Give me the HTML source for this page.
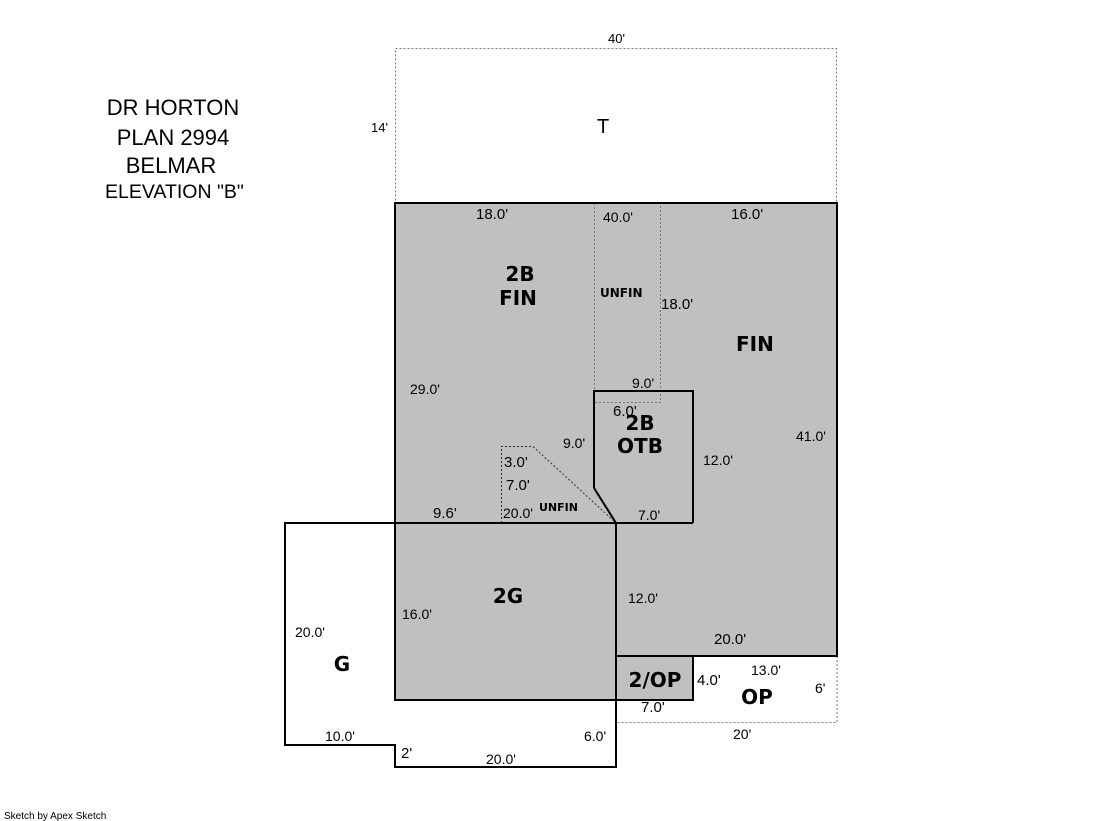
<!DOCTYPE html>
<html><head><meta charset="utf-8"><style>
body{margin:0;background:#fff}
svg{display:block}
text{font-family:"Liberation Sans",Arial,sans-serif;fill:#000}
.s{font-size:14px}
.m{font-size:15px}
.b{font-size:20px;font-weight:bold;font-family:"DejaVu Sans",sans-serif}
.u{font-size:12px;font-weight:bold;font-family:"DejaVu Sans",sans-serif}
.h{font-size:22px}
</style></head><body>
<svg width="1119" height="821" viewBox="0 0 1119 821" xmlns="http://www.w3.org/2000/svg">
<rect x="395.5" y="48.5" width="441" height="155" fill="none" stroke="#777" stroke-dasharray="2,2"/>
<polygon points="395,203 837,203 837,656 616,656 616,700 395,700" fill="#c0c0c0"/>
<rect x="616" y="656" width="77" height="44" fill="#c0c0c0"/>
<polyline points="616,656 616,722.5 837,722.5 837,656" fill="none" stroke="#777" stroke-dasharray="2,2"/>
<polyline points="594.5,203 594.5,402.5 660.5,402.5 660.5,203" fill="none" stroke="#777" stroke-dasharray="2,2"/>
<polyline points="501.5,523 501.5,446.5 533,446.5 616,523" fill="none" stroke="#333" stroke-dasharray="2,2"/>
<g fill="none" stroke="#000" stroke-width="2">
<polygon points="395,203 837,203 837,656 616,656 616,700 395,700"/>
<line x1="395" y1="523" x2="693" y2="523"/>
<line x1="616" y1="523" x2="616" y2="700"/>
<polyline points="594,488 594,391 693,391 693,523"/>
<line x1="594" y1="488" x2="616" y2="523"/>
<polyline points="616,656 693,656 693,700 616,700"/>
<polyline points="395,523 285,523 285,745 395,745 395,767 616,767 616,700"/>
</g>
<text class="h" x="173" y="115" text-anchor="middle">DR HORTON</text>
<text class="h" x="173" y="145" text-anchor="middle">PLAN 2994</text>
<text class="h" x="171" y="173" text-anchor="middle">BELMAR</text>
<text x="105" y="198" style="font-size:19.5px">ELEVATION "B"</text>
<text class="s" x="608" y="43" style="font-size:13px">40'</text>
<text class="s" x="371" y="132" style="font-size:13px">14'</text>
<text class="h" x="597" y="133" style="font-size:20px">T</text>
<text class="m" x="476" y="219">18.0'</text>
<text class="s" x="603" y="222">40.0'</text>
<text class="m" x="731" y="219">16.0'</text>
<text class="b" x="520" y="281" text-anchor="middle">2B</text>
<text class="b" x="518" y="305" text-anchor="middle">FIN</text>
<text class="u" x="600" y="297">UNFIN</text>
<text class="m" x="661" y="309">18.0'</text>
<text class="b" x="736" y="351">FIN</text>
<text class="s" x="410" y="394">29.0'</text>
<text class="s" x="632" y="388">9.0'</text>
<text class="m" x="613" y="416">6.0'</text>
<text class="b" x="640" y="430" text-anchor="middle">2B</text>
<text class="b" x="640" y="453" text-anchor="middle">OTB</text>
<text class="s" x="563" y="448">9.0'</text>
<text class="s" x="703" y="465">12.0'</text>
<text class="s" x="796" y="441">41.0'</text>
<text class="m" x="504" y="467">3.0'</text>
<text class="m" x="506" y="490">7.0'</text>
<text class="s" x="503" y="518">20.0'</text>
<text class="u" x="539" y="511" style="font-size:11px">UNFIN</text>
<text class="s" x="638" y="520">7.0'</text>
<text class="m" x="433" y="518">9.6'</text>
<text class="b" x="508" y="603" text-anchor="middle">2G</text>
<text class="s" x="402" y="619">16.0'</text>
<text class="s" x="628" y="603">12.0'</text>
<text class="m" x="714" y="644">20.0'</text>
<text class="s" x="295" y="637">20.0'</text>
<text class="b" x="342" y="671" text-anchor="middle">G</text>
<text class="b" x="655" y="687" text-anchor="middle">2/OP</text>
<text class="m" x="697" y="685">4.0'</text>
<text class="s" x="751" y="675">13.0'</text>
<text class="b" x="757" y="704" text-anchor="middle">OP</text>
<text class="s" x="815" y="693">6'</text>
<text class="m" x="641" y="712">7.0'</text>
<text class="s" x="733" y="739">20'</text>
<text class="s" x="325" y="741">10.0'</text>
<text class="s" x="584" y="741">6.0'</text>
<text class="m" x="401" y="758">2'</text>
<text class="s" x="486" y="764">20.0'</text>
<text x="4" y="819" style="font-size:10px">Sketch by Apex Sketch</text>
</svg>
</body></html>
